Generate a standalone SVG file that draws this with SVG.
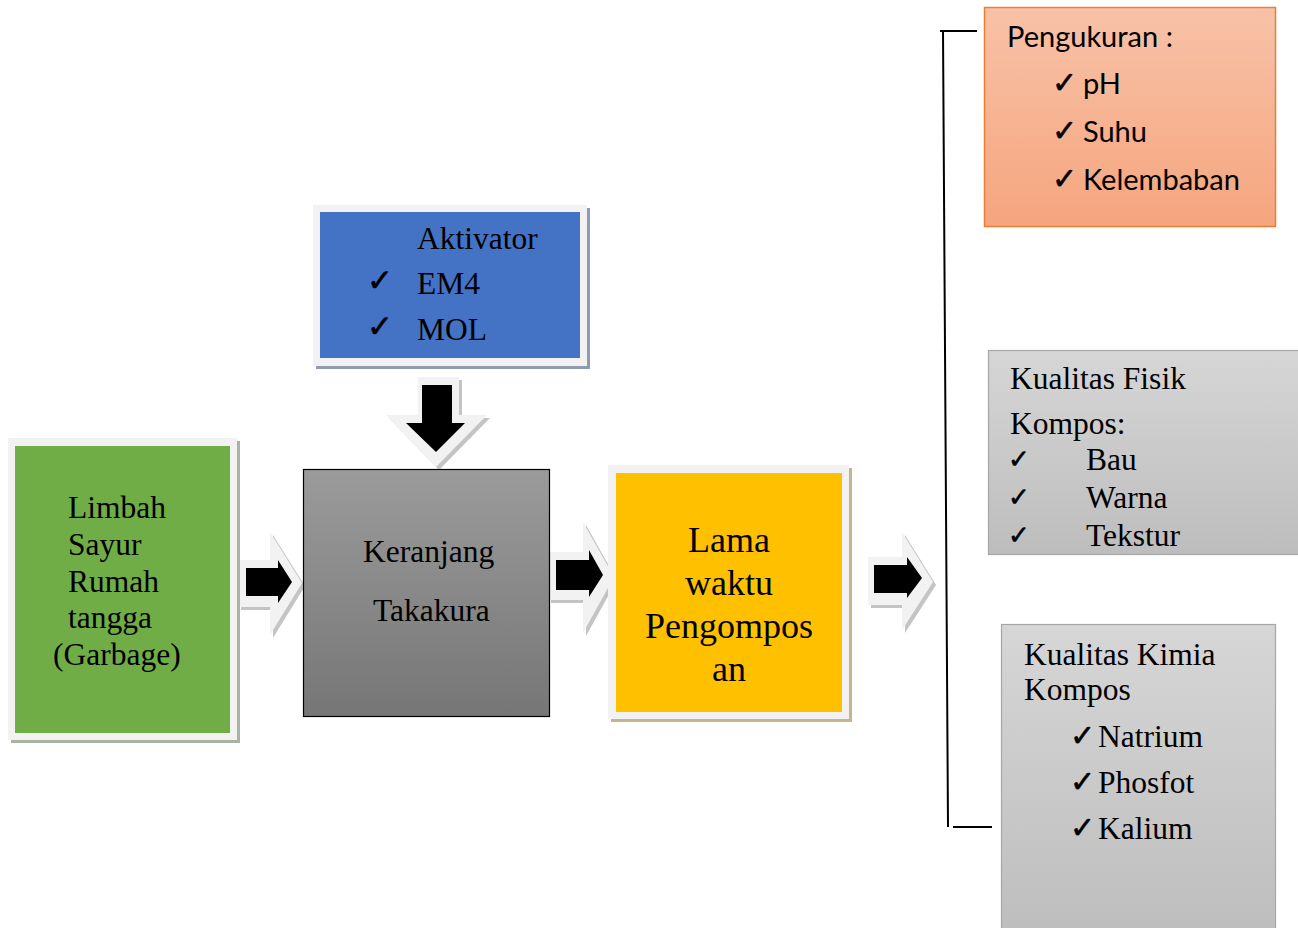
<svg xmlns="http://www.w3.org/2000/svg" width="1298" height="928" viewBox="0 0 1298 928">
<style>
.serif{font-family:"Liberation Serif","Times New Roman",serif;font-size:31.5px;fill:#000}
.big{font-size:36px}
.sans{font-family:Lato,"Liberation Sans",sans-serif;font-size:29px;fill:#000}
.chk{font-family:"DejaVu Sans",sans-serif;fill:#000;stroke:#000;stroke-width:0.6}
.frame{fill:#f2f2f2}
.ashadow{fill:#c4c4c4}
.alight{fill:#f2f2f2}
.ablack{fill:#000}
.line{stroke:#000;stroke-width:2;fill:none}
</style>
<defs>
<linearGradient id="gGray" x1="0" y1="0" x2="0" y2="1"><stop offset="0" stop-color="#9b9b9b"/><stop offset="1" stop-color="#767676"/></linearGradient>
<linearGradient id="gOrange" x1="0" y1="0" x2="0" y2="1"><stop offset="0" stop-color="#f8c2a8"/><stop offset="1" stop-color="#f5a57e"/></linearGradient>
<linearGradient id="gLight" x1="0" y1="0" x2="0" y2="1"><stop offset="0" stop-color="#d6d6d6"/><stop offset="1" stop-color="#bdbdbd"/></linearGradient>
</defs>

<g id="connectors">
  <path class="line" d="M940,31 H977 M943,31 L948,827 M953,827 H992"/>
  <g id="arrow1">
    <polygon class="ashadow" points="241,563 273,563 273,535 305,586 273,638 273,610 241,610"/>
    <polygon class="alight" points="238,560 270,560 270,532 302,583 270,635 270,607 238,607"/>
    <polygon class="ablack" points="246,568 278,568 278,560 292,582 278,603 278,596 246,596"/>
  </g>
  <g id="arrow2">
    <polygon class="ashadow" points="551,555 586,555 586,525 617,580 586,636 586,603 551,603"/>
    <polygon class="alight" points="548,552 583,552 583,522 614,577 583,633 583,600 548,600"/>
    <polygon class="ablack" points="556,560 589,560 589,550 603,575 589,597 589,590 556,590"/>
  </g>
  <g id="arrow3">
    <polygon class="ashadow" points="871,560 905,560 905,535 936,585 905,633 905,608 871,608"/>
    <polygon class="alight" points="868,557 902,557 902,532 933,582 902,630 902,605 868,605"/>
    <polygon class="ablack" points="874,565 907,565 907,557 922,578 907,598 907,593 874,593"/>
  </g>
  <g id="arrowDown">
    <polygon class="ashadow" points="421,380 462,380 462,418 490,418 439,470 389,418 421,418"/>
    <polygon class="alight" points="418,377 459,377 459,415 487,415 436,467 386,415 418,415"/>
    <polygon class="ablack" points="422,385 452,385 452,423 465,423 436,452 406,423 422,423"/>
  </g>
</g>

<g id="limbah">
  <rect x="11" y="441" width="229" height="302" fill="#a9b3a1"/>
  <rect class="frame" x="8" y="438" width="229" height="302"/>
  <rect x="15" y="446" width="215" height="287" fill="#70ad47"/>
  <text class="serif" x="68" y="518">Limbah</text>
  <text class="serif" x="68" y="555">Sayur</text>
  <text class="serif" x="68" y="592">Rumah</text>
  <text class="serif" x="68" y="628">tangga</text>
  <text class="serif" x="53" y="665">(Garbage)</text>
</g>

<g id="aktivator">
  <rect x="316" y="208" width="274" height="161" fill="#8f9bb3"/>
  <rect class="frame" x="313" y="205" width="274" height="161"/>
  <rect x="320" y="212" width="260" height="146" fill="#4472c4"/>
  <text class="serif" x="417" y="249">Aktivator</text>
  <text class="chk" x="367" y="291" font-size="31">✓</text>
  <text class="serif" x="417" y="294">EM4</text>
  <text class="chk" x="367" y="337" font-size="31">✓</text>
  <text class="serif" x="417" y="340">MOL</text>
</g>

<g id="keranjang">
  <rect x="303.5" y="469.5" width="246" height="247" fill="url(#gGray)" stroke="#000" stroke-width="1.2"/>
  <text class="serif" x="363" y="562">Keranjang</text>
  <text class="serif" x="373" y="621">Takakura</text>
</g>

<g id="lama">
  <rect x="611" y="468" width="241" height="254" fill="#c4b68c"/>
  <rect class="frame" x="608" y="465" width="241" height="254"/>
  <rect x="616" y="473" width="226" height="239" fill="#ffc000"/>
  <text class="serif big" x="729" y="552" text-anchor="middle">Lama</text>
  <text class="serif big" x="729" y="595" text-anchor="middle">waktu</text>
  <text class="serif big" x="729" y="638" text-anchor="middle">Pengompos</text>
  <text class="serif big" x="729" y="681" text-anchor="middle">an</text>
</g>

<g id="pengukuran">
  <rect x="984.5" y="7.5" width="291" height="219" fill="url(#gOrange)" stroke="#ed7d31" stroke-width="1.5"/>
  <text class="sans" x="1007" y="47">Pengukuran :</text>
  <text class="chk" x="1052" y="93" font-size="30">✓</text>
  <text class="sans" x="1083" y="94">pH</text>
  <text class="chk" x="1052" y="141" font-size="30">✓</text>
  <text class="sans" x="1083" y="142">Suhu</text>
  <text class="chk" x="1052" y="189" font-size="30">✓</text>
  <text class="sans" x="1083" y="190">Kelembaban</text>
</g>

<g id="fisik">
  <rect x="988.5" y="350.5" width="320" height="204" fill="url(#gLight)" stroke="#a6a6a6" stroke-width="1.2"/>
  <text class="serif" x="1010" y="389">Kualitas Fisik</text>
  <text class="serif" x="1010" y="434">Kompos:</text>
  <text class="chk" x="1008" y="468" font-size="26">✓</text>
  <text class="serif" x="1086" y="470" font-size="26">Bau</text>
  <text class="chk" x="1008" y="506" font-size="26">✓</text>
  <text class="serif" x="1086" y="508" font-size="26">Warna</text>
  <text class="chk" x="1008" y="544" font-size="26">✓</text>
  <text class="serif" x="1086" y="546" font-size="26">Tekstur</text>
</g>

<g id="kimia">
  <rect x="1001.5" y="624.5" width="274" height="320" fill="url(#gLight)" stroke="#a6a6a6" stroke-width="1.2"/>
  <text class="serif" x="1024" y="665">Kualitas Kimia</text>
  <text class="serif" x="1024" y="700">Kompos</text>
  <text class="chk" x="1070" y="746" font-size="30">✓</text>
  <text class="serif" x="1098" y="747">Natrium</text>
  <text class="chk" x="1070" y="792" font-size="30">✓</text>
  <text class="serif" x="1098" y="793">Phosfot</text>
  <text class="chk" x="1070" y="838" font-size="30">✓</text>
  <text class="serif" x="1098" y="839">Kalium</text>
</g>
</svg>
